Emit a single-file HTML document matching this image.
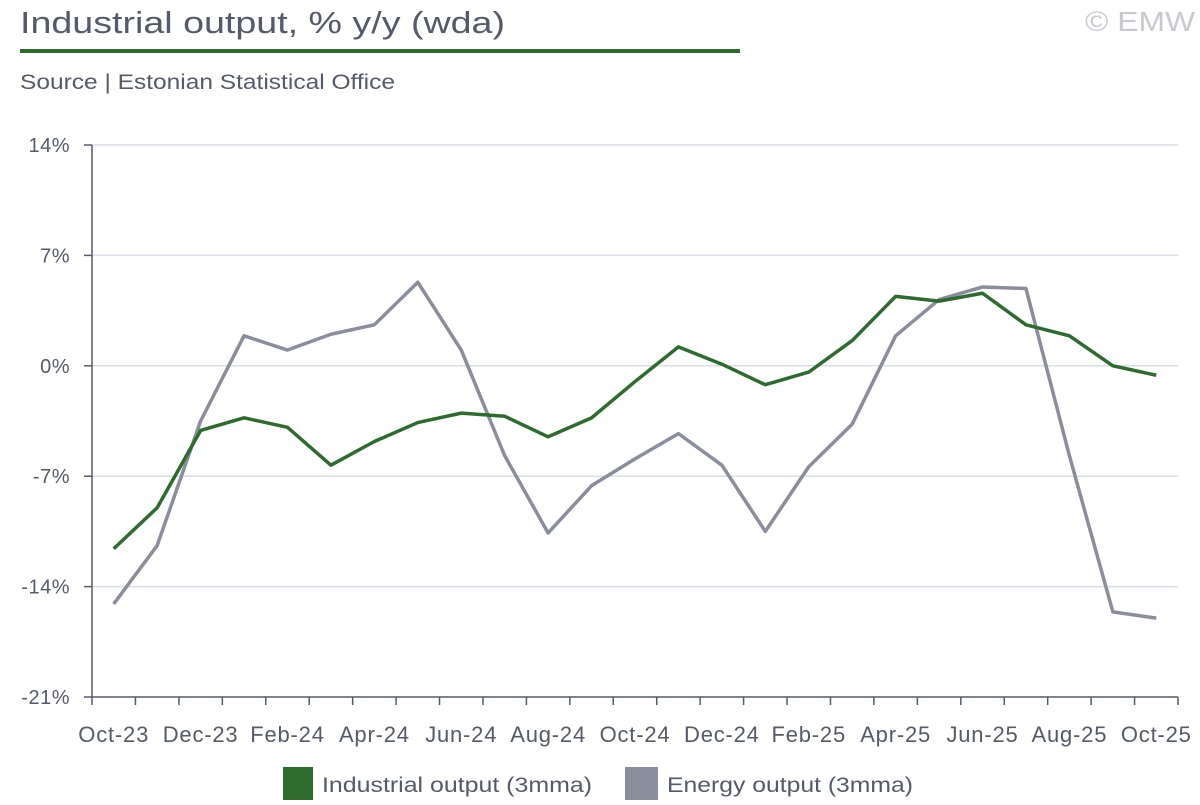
<!DOCTYPE html>
<html><head><meta charset="utf-8"><style>
html,body{margin:0;padding:0;background:#fff;}
body{width:1200px;height:800px;overflow:hidden;font-family:"Liberation Sans",sans-serif;}
svg text{font-family:"Liberation Sans",sans-serif;}
</style></head><body>
<svg id="chart" width="1200" height="800">
<text x="20" y="33" font-size="31" fill="#555a6a" textLength="485" lengthAdjust="spacingAndGlyphs">Industrial output, % y/y (wda)</text>
<rect x="20" y="49" width="720" height="4" fill="#2e6b2e"/>
<text x="1085" y="31" font-size="28" fill="#c8c9cf" textLength="110" lengthAdjust="spacingAndGlyphs">© EMW</text>
<text x="20" y="89" font-size="21" fill="#555a6a" textLength="375" lengthAdjust="spacingAndGlyphs">Source | Estonian Statistical Office</text>
<g id="grid"></g><g id="axes"></g><g id="series"></g>
<g>
<rect x="283" y="767" width="30" height="33" fill="#2e6b2e"/>
<text x="322" y="792" font-size="21" fill="#555a6a" textLength="270" lengthAdjust="spacingAndGlyphs">Industrial output (3mma)</text>
<rect x="625" y="767" width="33" height="33" fill="#8a8d9c"/>
<text x="667" y="792" font-size="21" fill="#555a6a" textLength="246" lengthAdjust="spacingAndGlyphs">Energy output (3mma)</text>
</g>
</svg>
<script>
const categories=["Oct-23","Nov-23","Dec-23","Jan-24","Feb-24","Mar-24","Apr-24","May-24","Jun-24","Jul-24","Aug-24","Sep-24","Oct-24","Nov-24","Dec-24","Jan-25","Feb-25","Mar-25","Apr-25","May-25","Jun-25","Jul-25","Aug-25","Sep-25","Oct-25"];
const industrial=[-11.6,-9.0,-4.1,-3.3,-3.9,-6.3,-4.8,-3.6,-3.0,-3.2,-4.5,-3.3,-1.0,1.2,0.1,-1.2,-0.4,1.6,4.4,4.1,4.6,2.6,1.9,0.0,-0.6];
const energy=[-15.1,-11.4,-3.5,1.9,1.0,2.0,2.6,5.3,1.0,-5.7,-10.6,-7.6,-5.9,-4.3,-6.3,-10.5,-6.4,-3.7,1.9,4.2,5.0,4.9,-5.7,-15.6,-16.0];
const yTicks=[14,7,0,-7,-14,-21];
const yTickLabels=["14%","7%","0%","-7%","-14%","-21%"];
const NS="http://www.w3.org/2000/svg";
const L=92,R=1178,T=145,B=697,yMax=14,yMin=-21;
const step=(R-L)/categories.length;
const x=i=>L+step*(i+0.5);
const y=v=>T+(yMax-v)/(yMax-yMin)*(B-T);
function mk(tag,attrs,parent){const e=document.createElementNS(NS,tag);for(const k in attrs)e.setAttribute(k,attrs[k]);parent.appendChild(e);return e;}
const grid=document.getElementById('grid'),axes=document.getElementById('axes'),series=document.getElementById('series');
yTicks.forEach((t,i)=>{
  if(t!==yMin){const g=mk('line',{x1:L,x2:R,y1:y(t),y2:y(t),stroke:'#d8dde6','stroke-width':1.5},grid);
  
  }
  const tk=mk('line',{x1:L-8,x2:L,y1:y(t),y2:y(t),stroke:'#555a6a','stroke-width':1.5},axes);
  
  
  const tx=mk('text',{x:70,y:y(t)+7,'font-size':20,fill:'#555a6a','text-anchor':'end','letter-spacing':0.5},axes);
  tx.textContent=yTickLabels[i];
  
  
});
const ya=mk('line',{x1:L,x2:L,y1:T,y2:B,stroke:'#555a6a','stroke-width':1.5},axes);


const xa=mk('line',{x1:L,x2:R,y1:B,y2:B,stroke:'#555a6a','stroke-width':1.5},axes);


for(let i=0;i<=categories.length;i++){
  const tk=mk('line',{x1:L+step*i,x2:L+step*i,y1:B,y2:B+8,stroke:'#555a6a','stroke-width':1.5},axes);
  
  
}
categories.forEach((c,i)=>{if(i%2)return;
  const tx=mk('text',{x:x(i),y:742,'font-size':22,fill:'#555a6a','text-anchor':'middle','letter-spacing':0.8},axes);
  tx.textContent=c;
  
  
});
function line(data,color,name){
  const p=mk('polyline',{points:data.map((v,i)=>x(i)+','+y(v)).join(' '),fill:'none',stroke:color,'stroke-width':3.5,'stroke-linejoin':'round'},series);
  
  
}
line(energy,'#8a8d9c','energy-output-line');
line(industrial,'#2e6b2e','industrial-output-line');
</script>
</body></html>
